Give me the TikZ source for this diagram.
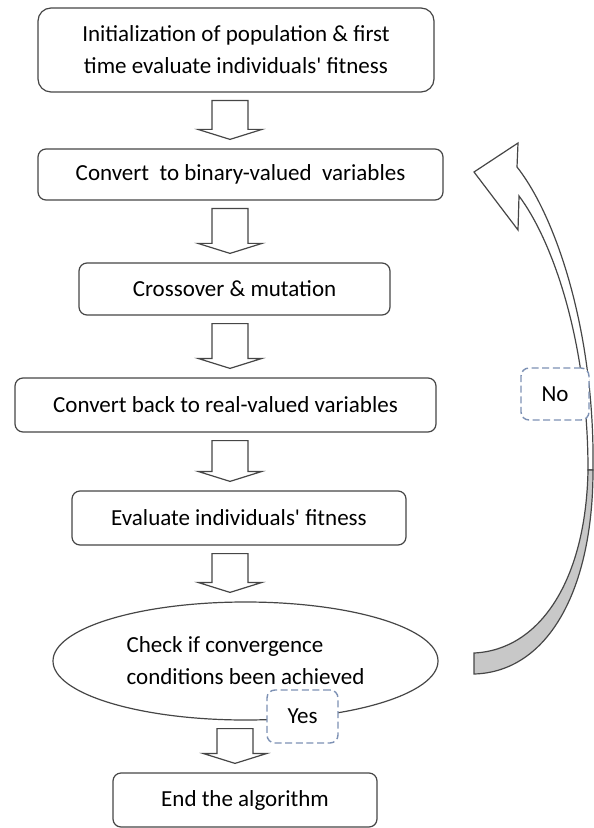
\documentclass[tikz,border=0pt]{standalone}
\usepackage{fontspec}
\setmainfont{Carlito}
\usetikzlibrary{shapes.geometric,calc}

\definecolor{linegray}{RGB}{70,70,70}
\definecolor{dashblue}{RGB}{125,145,180}
\definecolor{shadegray}{RGB}{200,200,200}

% hollow block arrow between two nodes, #1 = x position of the arrow
\newcommand{\flowarrow}[3][115pt]{%
  \draw[blockarrow] let \p1=(#2.south), \p2=(#3.north) in
    (#1-9pt,\y1-4pt) -- (#1+9pt,\y1-4pt) -- (#1+9pt,\y2+9.5pt) -- (#1+16pt,\y2+9.5pt)
    -- (#1,\y2+4.5pt) -- (#1-16pt,\y2+9.5pt) -- (#1-9pt,\y2+9.5pt) -- cycle;}

\begin{document}
\begin{tikzpicture}[x=0.5pt,y=-0.5pt,
  every node/.style={inner sep=0pt,font=\fontsize{11.5}{16}\selectfont},
  stepbox/.style={draw=linegray,line width=0.6pt,rounded corners=4pt,fill=white,align=center},
  checkbox/.style={ellipse,draw=linegray,line width=0.6pt,align=left},
  answerbox/.style={draw=dashblue,dash pattern=on 3.5pt off 1.8pt,line width=0.7pt,rounded corners=4pt,fill=white},
  blockarrow/.style={draw=linegray,line width=0.6pt,fill=white}]
\useasboundingbox (0,0) rectangle (593,828);

% return arrow
\filldraw[draw=linegray,line width=0.6pt,fill=white]
  (474,172) -- (518,143) -- (517,167) .. controls (555,215) and (595,330) .. (593,470)
  -- (588,470) .. controls (588,340) and (552,240) .. (519,196) -- (518,230) -- cycle;
\filldraw[draw=linegray,line width=0.6pt,fill=shadegray]
  (588,470) .. controls (586,580) and (540,650) .. (474,653)
  -- (474,674) .. controls (548,672) and (593,590) .. (593,470) -- cycle;

\node[stepbox,rounded corners=6.5pt,minimum width=198pt,minimum height=42pt] (init) at (236,50)
  {Initialization of population \& first\\time evaluate individuals\textquotesingle\ fitness};
\node[stepbox,minimum width=202.5pt,minimum height=25.5pt] (tobin) at (240.5,174.5)
  {Convert\ \ to binary-valued\ \ variables};
\node[stepbox,minimum width=155.5pt,minimum height=26pt] (cross) at (234.5,289)
  {Crossover \& mutation};
\node[stepbox,minimum width=210.5pt,minimum height=27pt] (toreal) at (225.5,405)
  {Convert back to real-valued variables};
\node[stepbox,minimum width=167pt,minimum height=27pt] (evalfit) at (239,518)
  {Evaluate individuals\textquotesingle\ fitness};
\node[checkbox,minimum width=192.5pt,minimum height=59pt] (check) at (245.5,661)
  {Check if convergence\\conditions been achieved};
\node[stepbox,minimum width=132pt,minimum height=27pt] (stop) at (245,800)
  {End the algorithm};

\node[answerbox,minimum width=35.5pt,minimum height=26.5pt] (yes) at (302.5,716.5) {Yes};
\node[answerbox,minimum width=34pt,minimum height=26pt] (no) at (555,394) {No};

\flowarrow{init}{tobin}
\flowarrow{tobin}{cross}
\flowarrow{cross}{toreal}
\flowarrow{toreal}{evalfit}
\flowarrow{evalfit}{check}
\flowarrow[117.5pt]{check}{stop}
\end{tikzpicture}
\end{document}
